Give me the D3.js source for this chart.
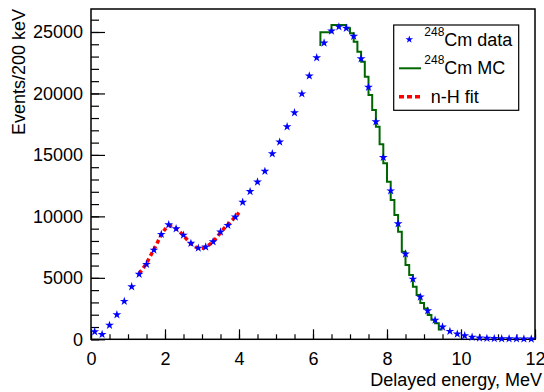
<!DOCTYPE html>
<html lang="en">

<head>
  <meta charset="UTF-8" />
  <title>d3</title>
  <style>
    body {
      margin: 0;
      background: #fff;
    }

    #container {
      width: 544px;
      height: 392px;
    }

    text {
      font-family: "Liberation Sans", Arial, sans-serif;
    }
  </style>
</head>

<body>
  <div id="container"></div>
  <script src="https://cdn.jsdelivr.net/npm/d3@7/dist/d3.min.js"></script>
  <script>
    // 248Cm data, 200 keV bins starting at 0 MeV
    const dataBinWidth = 0.2;
    const dataCounts = [
      620, 400, 1140, 2000, 3090, 4280, 5290, 6100, 7260, 8540,
      9320, 9000, 8480, 7810, 7420, 7510, 7940, 8730, 9270, 9950,
      11150, 12020, 12800, 13670, 15100, 16050, 17300, 18430, 19970, 21430,
      22910, 24110, 25080, 25420, 25310, 24660, 22830, 20500, 17700, 14800,
      12080, 9400, 6940, 4900, 3440, 2320, 1560, 1010, 650, 430,
      295, 170, 115, 85, 65, 50, 45, 40, 35, 30
    ];

    // 248Cm MC, 100 keV bins from 6.2 MeV (lead-in = level just below 6.2)
    const mcStart = 6.2;
    const mcBinWidth = 0.1;
    const mcLeadIn = 23850;
    const mcCounts = [
      24970, 24970, 24970, 25570, 25570, 25570, 25570, 25300, 24890, 24200,
      23400, 22580, 21360, 19870, 18650, 17300, 15860, 14320, 12820, 11330,
      10110, 8750, 7130, 6040, 5230, 4280, 3600, 2950, 2500, 1980,
      1600, 1300, 800
    ];

    // n-H fit curve
    const fitEnergy = [
      1.3, 1.4, 1.5, 1.6, 1.7, 1.8, 1.9, 2.0, 2.1, 2.2,
      2.3, 2.4, 2.5, 2.6, 2.7, 2.8, 2.9, 3.0, 3.1, 3.2,
      3.3, 3.4, 3.5, 3.6, 3.7, 3.8, 3.9, 4.0
    ];
    const fitCounts = [
      5350, 5750, 6200, 6750, 7300, 7900, 8500, 8950, 9220, 9230,
      9020, 8750, 8430, 8100, 7800, 7560, 7430, 7410, 7500, 7700,
      7960, 8300, 8680, 9030, 9330, 9640, 9960, 10300
    ];

    const xTicks = [0, 2, 4, 6, 8, 10, 12];
    const yTicks = [0, 5000, 10000, 15000, 20000, 25000];

    const margin = { top: 9, right: 9, bottom: 52.7, left: 91 };

    function draw() {
      d3.selectAll("svg").remove();
      let _width = 544,
        _height = 392,
        width = _width - margin.left - margin.right,
        height = _height - margin.top - margin.bottom;

      let svg = d3.select('#container')
        .append('svg').attr('width', _width).attr('height', _height);

      const g = svg.append('g')
        .attr('transform', `translate(${margin.left}, ${margin.top})`);

      const x = d3.scaleLinear().domain([0, 12]).range([0, width]);
      const y = d3.scaleLinear().domain([0, 26870]).range([height, 0]);

      // minor ticks
      g.append('g')
        .attr('transform', `translate(0, ${height})`)
        .call(d3.axisBottom(x).tickValues(d3.range(0, 12.01, 0.5)).tickSizeInner(-5).tickSizeOuter(0).tickFormat(''))
        .call(s => s.select('.domain').remove());
      g.append('g')
        .call(d3.axisLeft(y).tickValues(d3.range(0, 26001, 1000)).tickSizeInner(-8).tickSizeOuter(0).tickFormat(''))
        .call(s => s.select('.domain').remove());

      // major ticks + labels
      g.append('g')
        .attr('transform', `translate(0, ${height})`)
        .call(d3.axisBottom(x).tickValues(xTicks).tickSizeInner(-10).tickSizeOuter(0).tickPadding(13).tickFormat(d3.format('d')))
        .call(s => s.select('.domain').remove())
        .call(s => s.selectAll('text').attr('font-size', 18).attr('fill', '#000')
          .attr('font-family', '"Liberation Sans", Arial, sans-serif'));
      g.append('g')
        .call(d3.axisLeft(y).tickValues(yTicks).tickSizeInner(-14).tickSizeOuter(0).tickPadding(8).tickFormat(d3.format('d')))
        .call(s => s.select('.domain').remove())
        .call(s => s.selectAll('text').attr('font-size', 18).attr('fill', '#000')
          .attr('font-family', '"Liberation Sans", Arial, sans-serif'));

      g.selectAll('.tick line').attr('stroke', '#000').attr('stroke-width', 1.2);

      // frame
      g.append('rect')
        .attr('width', width).attr('height', height)
        .attr('fill', 'none').attr('stroke', '#000').attr('stroke-width', 1.5);

      // MC histogram
      const mcPts = [[x(mcStart), y(mcLeadIn)]];
      mcCounts.forEach((v, i) => {
        const x0 = mcStart + i * mcBinWidth;
        mcPts.push([x(x0), y(v)]);
        mcPts.push([x(x0 + mcBinWidth), y(v)]);
      });
      g.append('path')
        .attr('d', d3.line()(mcPts))
        .attr('fill', 'none')
        .attr('stroke', '#006600')
        .attr('stroke-width', 2);

      // n-H fit
      g.append('path')
        .datum(fitEnergy.map((e, i) => [e, fitCounts[i]]))
        .attr('d', d3.line().x(d => x(d[0])).y(d => y(d[1])).curve(d3.curveMonotoneX))
        .attr('fill', 'none')
        .attr('stroke', '#ff0000')
        .attr('stroke-width', 3.5)
        .attr('stroke-dasharray', '4,3');

      // data stars
      const star = d3.symbol(d3.symbolStar, 24);
      g.selectAll('.star')
        .data(dataCounts)
        .enter()
        .append('path')
        .attr('class', 'star')
        .attr('d', star)
        .attr('transform', (d, i) => `translate(${x((i + 0.5) * dataBinWidth)}, ${y(d)})`)
        .attr('fill', '#0000ff');

      // axis titles
      svg.append('text')
        .attr('x', 542).attr('y', 386)
        .attr('text-anchor', 'end')
        .attr('font-size', 18)
        .text('Delayed energy, MeV');
      svg.append('text')
        .attr('transform', 'translate(25, 9) rotate(-90)')
        .attr('text-anchor', 'end')
        .attr('font-size', 18)
        .text('Events/200 keV');

      // legend
      const leg = svg.append('g');
      leg.append('rect')
        .attr('x', 393.7).attr('y', 25).attr('width', 125).attr('height', 85.3)
        .attr('fill', '#fff').attr('stroke', '#000').attr('stroke-width', 1.2);
      leg.append('path')
        .attr('d', d3.symbol(d3.symbolStar, 18))
        .attr('transform', 'translate(409.3, 39.5)')
        .attr('fill', '#0000ff');
      leg.append('line')
        .attr('x1', 399).attr('x2', 421).attr('y1', 68.3).attr('y2', 68.3)
        .attr('stroke', '#006600').attr('stroke-width', 2);
      leg.append('line')
        .attr('x1', 399).attr('x2', 421).attr('y1', 96.7).attr('y2', 96.7)
        .attr('stroke', '#ff0000').attr('stroke-width', 3.5)
        .attr('stroke-dasharray', '5,3');

      const entries = [
        { sup: '248', main: 'Cm data', y: 45.7 },
        { sup: '248', main: 'Cm MC', y: 74 }
      ];
      entries.forEach(e => {
        const t = leg.append('text').attr('x', 424.3).attr('y', e.y).attr('font-size', 18);
        t.append('tspan').attr('font-size', 12).attr('dy', -10).text(e.sup);
        t.append('tspan').attr('dy', 10).text(e.main);
      });
      leg.append('text').attr('x', 430.7).attr('y', 102.7).attr('font-size', 18).text('n-H fit');
    }
    draw();
  </script>
</body>

</html>
